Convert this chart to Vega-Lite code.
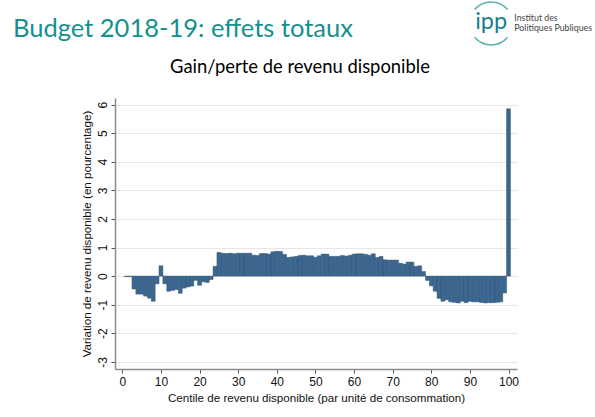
{
  "$schema": "https://vega.github.io/schema/vega-lite/v6.json",
  "width": 402,
  "height": 271,
  "autosize": {"type": "none"},
  "padding": {"left": 115, "top": 98, "right": 78, "bottom": 48},
  "background": "white",
  "title": {
    "text": "Budget 2018-19: effets totaux",
    "anchor": "start",
    "frame": "group",
    "dx": -102,
    "offset": -44,
    "font": "Lato",
    "fontSize": 25.5,
    "fontWeight": "normal",
    "color": "#14908f"
  },
  "config": {
    "view": {"stroke": "transparent"},
    "locale": {"number": {"decimal": ".", "thousands": ",", "grouping": [3], "currency": ["$", ""], "minus": "-"}},
    "axis": {
      "labelFont": "Liberation Sans",
      "titleFont": "Liberation Sans",
      "labelFontSize": 12,
      "titleFontSize": 11.6,
      "titleFontWeight": "normal",
      "labelColor": "#111",
      "titleColor": "#111",
      "domainColor": "#8c8c8c",
      "domainWidth": 1.5,
      "tickColor": "#555",
      "tickSize": 4
    }
  },
  "layer": [
    {
      "data": {
        "values": [
          {"centile":1,"variation":-0.02},{"centile":2,"variation":-0.02},{"centile":3,"variation":-0.45},{"centile":4,"variation":-0.63},{"centile":5,"variation":-0.63},
          {"centile":6,"variation":-0.7},{"centile":7,"variation":-0.77},{"centile":8,"variation":-0.88},{"centile":9,"variation":-0.27},{"centile":10,"variation":0.36},
          {"centile":11,"variation":-0.27},{"centile":12,"variation":-0.53},{"centile":13,"variation":-0.5},{"centile":14,"variation":-0.47},{"centile":15,"variation":-0.6},
          {"centile":16,"variation":-0.42},{"centile":17,"variation":-0.38},{"centile":18,"variation":-0.35},{"centile":19,"variation":-0.15},{"centile":20,"variation":-0.32},
          {"centile":21,"variation":-0.2},{"centile":22,"variation":-0.22},{"centile":23,"variation":-0.12},{"centile":24,"variation":0.34},{"centile":25,"variation":0.83},
          {"centile":26,"variation":0.8},{"centile":27,"variation":0.79},{"centile":28,"variation":0.8},{"centile":29,"variation":0.78},{"centile":30,"variation":0.8},
          {"centile":31,"variation":0.8},{"centile":32,"variation":0.8},{"centile":33,"variation":0.8},{"centile":34,"variation":0.73},{"centile":35,"variation":0.72},
          {"centile":36,"variation":0.79},{"centile":37,"variation":0.79},{"centile":38,"variation":0.77},{"centile":39,"variation":0.85},{"centile":40,"variation":0.87},
          {"centile":41,"variation":0.86},{"centile":42,"variation":0.76},{"centile":43,"variation":0.65},{"centile":44,"variation":0.67},{"centile":45,"variation":0.69},
          {"centile":46,"variation":0.72},{"centile":47,"variation":0.73},{"centile":48,"variation":0.71},{"centile":49,"variation":0.71},{"centile":50,"variation":0.66},
          {"centile":51,"variation":0.71},{"centile":52,"variation":0.77},{"centile":53,"variation":0.77},{"centile":54,"variation":0.69},{"centile":55,"variation":0.69},
          {"centile":56,"variation":0.69},{"centile":57,"variation":0.72},{"centile":58,"variation":0.7},{"centile":59,"variation":0.73},{"centile":60,"variation":0.77},
          {"centile":61,"variation":0.78},{"centile":62,"variation":0.78},{"centile":63,"variation":0.76},{"centile":64,"variation":0.73},{"centile":65,"variation":0.78},
          {"centile":66,"variation":0.65},{"centile":67,"variation":0.69},{"centile":68,"variation":0.57},{"centile":69,"variation":0.56},{"centile":70,"variation":0.56},
          {"centile":71,"variation":0.56},{"centile":72,"variation":0.45},{"centile":73,"variation":0.42},{"centile":74,"variation":0.49},{"centile":75,"variation":0.49},
          {"centile":76,"variation":0.34},{"centile":77,"variation":0.36},{"centile":78,"variation":0.16},{"centile":79,"variation":-0.15},{"centile":80,"variation":-0.34},
          {"centile":81,"variation":-0.53},{"centile":82,"variation":-0.78},{"centile":83,"variation":-0.88},{"centile":84,"variation":-0.83},{"centile":85,"variation":-0.9},
          {"centile":86,"variation":-0.92},{"centile":87,"variation":-0.94},{"centile":88,"variation":-0.88},{"centile":89,"variation":-0.93},{"centile":90,"variation":-0.88},
          {"centile":91,"variation":-0.9},{"centile":92,"variation":-0.9},{"centile":93,"variation":-0.92},{"centile":94,"variation":-0.94},{"centile":95,"variation":-0.93},
          {"centile":96,"variation":-0.93},{"centile":97,"variation":-0.92},{"centile":98,"variation":-0.9},{"centile":99,"variation":-0.59},{"centile":100,"variation":5.85}
        ]
      },
      "mark": {"type": "bar", "width": 3.86, "fill": "#3c6790", "stroke": "#2f5273", "strokeWidth": 0.5},
      "encoding": {
        "x": {
          "field": "centile",
          "type": "quantitative",
          "scale": {"domain": [-1.9, 102.2], "nice": false, "zero": false, "padding": 0},
          "axis": {
            "values": [0,10,20,30,40,50,60,70,80,90,100],
            "tickCount": 12,
            "grid": false,
            "labelOverlap": false,
            "labelPadding": 3,
            "title": "Centile de revenu disponible (par unité de consommation)",
            "titleY": 23
          }
        },
        "y": {
          "field": "variation",
          "type": "quantitative",
          "scale": {"domain": [-3.25, 6.23], "nice": false, "zero": false},
          "axis": {
            "values": [-3,-2,-1,0,1,2,3,4,5,6],
            "tickCount": 12,
            "grid": true,
            "gridColor": "#e6e6e6",
            "gridWidth": 1.2,
            "labelOverlap": false,
            "labelAngle": -90,
            "labelAlign": "center",
            "labelBaseline": "bottom",
            "labelPadding": 2,
            "title": "Variation de revenu disponible (en pourcentage)",
            "titleX": -23
          }
        }
      }
    },
    {
      "data": {"values": [{"centile": 46, "variation": 7.11, "label": "Gain/perte de revenu disponible"}]},
      "mark": {"type": "text", "font": "Lato", "fontSize": 18.4, "color": "black", "align": "center", "baseline": "alphabetic"},
      "encoding": {
        "x": {"field": "centile", "type": "quantitative"},
        "y": {"field": "variation", "type": "quantitative"},
        "text": {"field": "label"}
      }
    },
    {
      "data": {"values": [{"centile": 95.5, "variation": 8.89, "label": "ipp"}]},
      "mark": {"type": "text", "font": "Lato", "fontSize": 23.5, "color": "#14808a", "align": "center", "baseline": "middle"},
      "encoding": {
        "x": {"field": "centile", "type": "quantitative"},
        "y": {"field": "variation", "type": "quantitative"},
        "text": {"field": "label"}
      }
    },
    {
      "data": {"values": [{"centile": 95.5, "variation": 8.84}]},
      "mark": {
        "type": "point",
        "shape": "M -0.767 -0.642 A 1 1 0 0 1 0.767 -0.642 M -0.767 0.642 A 1 1 0 0 0 0.767 0.642",
        "size": 1849,
        "filled": false,
        "stroke": "#14908f",
        "strokeWidth": 1.5
      },
      "encoding": {
        "x": {"field": "centile", "type": "quantitative"},
        "y": {"field": "variation", "type": "quantitative"}
      }
    },
    {
      "data": {
        "values": [
          {"centile": 101.5, "variation": 9.03, "label": "Institut des"},
          {"centile": 101.5, "variation": 8.68, "label": "Politiques Publiques"}
        ]
      },
      "mark": {"type": "text", "font": "Lato", "fontSize": 8.8, "color": "#444", "align": "left", "baseline": "middle"},
      "encoding": {
        "x": {"field": "centile", "type": "quantitative"},
        "y": {"field": "variation", "type": "quantitative"},
        "text": {"field": "label"}
      }
    }
  ]
}
